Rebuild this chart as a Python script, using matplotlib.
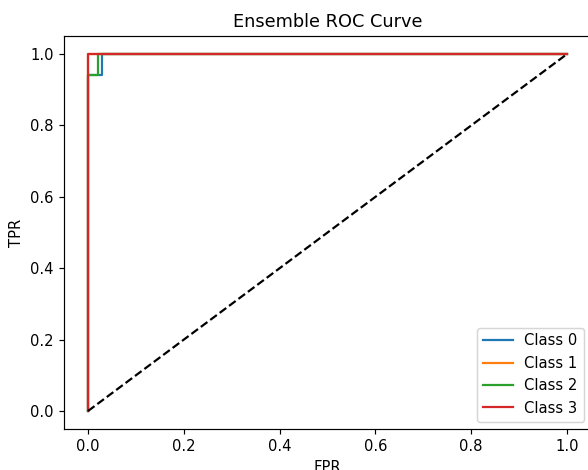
import matplotlib
matplotlib.use('Agg')
from matplotlib import pyplot as plt

# roc points per class
fpr0 = [0.0, 0.0, 0.03, 0.03, 1.0]
tpr0 = [0.0, 0.94, 0.94, 1.0, 1.0]
fpr1 = [0.0, 0.0, 1.0]
tpr1 = [0.0, 1.0, 1.0]
fpr2 = [0.0, 0.0, 0.02, 0.02, 1.0]
tpr2 = [0.0, 0.94, 0.94, 1.0, 1.0]
fpr3 = [0.0, 0.0, 1.0]
tpr3 = [0.0, 1.0, 1.0]
labels = ['Class 0', 'Class 1', 'Class 2', 'Class 3']

# reference looks like a default 6.4x4.8 figure shown a bit larger and cropped
DPI = 106.25
fig = plt.figure(figsize=(588/DPI, 470/DPI), dpi=DPI)
ax = fig.add_axes([64/588, (470-428.9)/470, 527/588, 392.7/470])

for fpr, tpr, lab in zip([fpr0, fpr1, fpr2, fpr3], [tpr0, tpr1, tpr2, tpr3], labels):
    ax.plot(fpr, tpr, label=lab)
ax.plot([0, 1], [0, 1], 'k--')

ax.set_xlabel('FPR')
ax.set_ylabel('TPR')
ax.set_title('Ensemble ROC Curve')
ax.legend(loc='lower right')
fig.savefig('out.png', dpi=DPI)
